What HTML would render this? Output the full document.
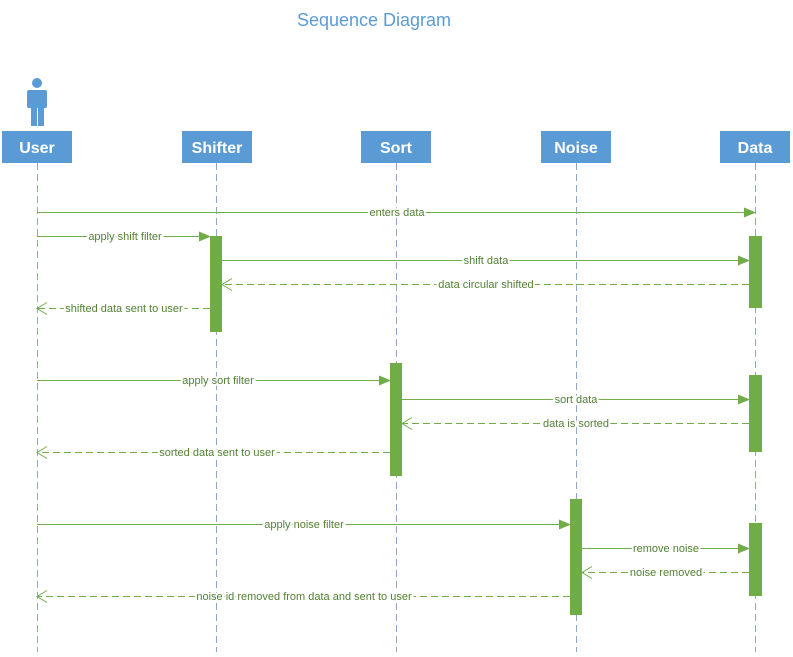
<!DOCTYPE html>
<html><head><style>body{margin:0;background:#fff}</style></head><body>
<svg width="793" height="652" xmlns="http://www.w3.org/2000/svg" font-family="Liberation Sans, sans-serif">
<defs>
<marker id="f" markerWidth="12" markerHeight="10" refX="11" refY="5" orient="auto" markerUnits="userSpaceOnUse"><path d="M0,0 L12,5 L0,10 Z" fill="#70ad47"/></marker>
<marker id="o" markerWidth="12" markerHeight="14" refX="11" refY="7" orient="auto" markerUnits="userSpaceOnUse"><path d="M1,1 L11,7 L1,13" fill="none" stroke="#70ad47" stroke-width="1"/></marker>
</defs>
<text x="374" y="26" text-anchor="middle" font-size="18" fill="#5b9bd5">Sequence Diagram</text>
<g fill="#5b9bd5">
<circle cx="37" cy="83" r="5"/>
<rect x="27" y="90" width="20" height="18" rx="2"/>
<rect x="31" y="104" width="6" height="22"/><rect x="38" y="104" width="6" height="22"/>
</g>
<g stroke="#8ea9c8" stroke-width="1" stroke-dasharray="7,4">
<line x1="37.5" y1="163" x2="37.5" y2="652"/>
<line x1="216.5" y1="163" x2="216.5" y2="652"/>
<line x1="396.5" y1="163" x2="396.5" y2="652"/>
<line x1="576.5" y1="163" x2="576.5" y2="652"/>
<line x1="755.5" y1="163" x2="755.5" y2="652"/>
</g>
<g fill="#5b9bd5">
<rect x="2" y="131" width="70" height="32"/><rect x="182" y="131" width="70" height="32"/>
<rect x="361" y="131" width="70" height="32"/><rect x="541" y="131" width="70" height="32"/>
<rect x="720" y="131" width="70" height="32"/>
</g>
<g fill="#fff" font-size="16" font-weight="bold" text-anchor="middle">
<text x="37" y="153">User</text><text x="217" y="153">Shifter</text><text x="396" y="153">Sort</text><text x="576" y="153">Noise</text><text x="755" y="153">Data</text>
</g>
<g fill="#70ad47">
<rect x="210" y="236" width="12" height="96"/>
<rect x="749" y="236" width="13" height="72"/>
<rect x="390" y="363" width="12" height="113"/>
<rect x="749" y="375" width="13" height="77"/>
<rect x="570" y="499" width="12" height="116"/>
<rect x="749" y="523" width="13" height="73"/>
</g>
<g stroke="#70ad47" stroke-width="1" fill="none">
<line x1="37" y1="212.5" x2="755" y2="212.5" marker-end="url(#f)"/>
<line x1="37" y1="236.5" x2="210" y2="236.5" marker-end="url(#f)"/>
<line x1="222" y1="260.5" x2="749" y2="260.5" marker-end="url(#f)"/>
<line x1="749" y1="284.5" x2="222" y2="284.5" stroke-dasharray="7,4" marker-end="url(#o)"/>
<line x1="210" y1="308.5" x2="37" y2="308.5" stroke-dasharray="7,4" marker-end="url(#o)"/>
<line x1="37" y1="380.5" x2="390" y2="380.5" marker-end="url(#f)"/>
<line x1="402" y1="399.5" x2="749" y2="399.5" marker-end="url(#f)"/>
<line x1="749" y1="423.5" x2="402" y2="423.5" stroke-dasharray="7,4" marker-end="url(#o)"/>
<line x1="390" y1="452.5" x2="37" y2="452.5" stroke-dasharray="7,4" marker-end="url(#o)"/>
<line x1="37" y1="524.5" x2="570" y2="524.5" marker-end="url(#f)"/>
<line x1="582" y1="548.5" x2="749" y2="548.5" marker-end="url(#f)"/>
<line x1="749" y1="572.5" x2="582" y2="572.5" stroke-dasharray="7,4" marker-end="url(#o)"/>
<line x1="570" y1="596.5" x2="37" y2="596.5" stroke-dasharray="7,4" marker-end="url(#o)"/>
</g>
<g font-size="11" fill="#538135" text-anchor="middle" paint-order="stroke" stroke="#fff" stroke-width="4">
<text x="397" y="216">enters data</text>
<text x="125" y="240">apply shift filter</text>
<text x="486" y="264">shift data</text>
<text x="486" y="288">data circular shifted</text>
<text x="124" y="312">shifted data sent to user</text>
<text x="218" y="384">apply sort filter</text>
<text x="576" y="403">sort data</text>
<text x="576" y="427">data is sorted</text>
<text x="217" y="456">sorted data sent to user</text>
<text x="304" y="528">apply noise filter</text>
<text x="666" y="552">remove noise</text>
<text x="666" y="576">noise removed</text>
<text x="304" y="600">noise id removed from data and sent to user</text>
</g>
</svg>
</body></html>
